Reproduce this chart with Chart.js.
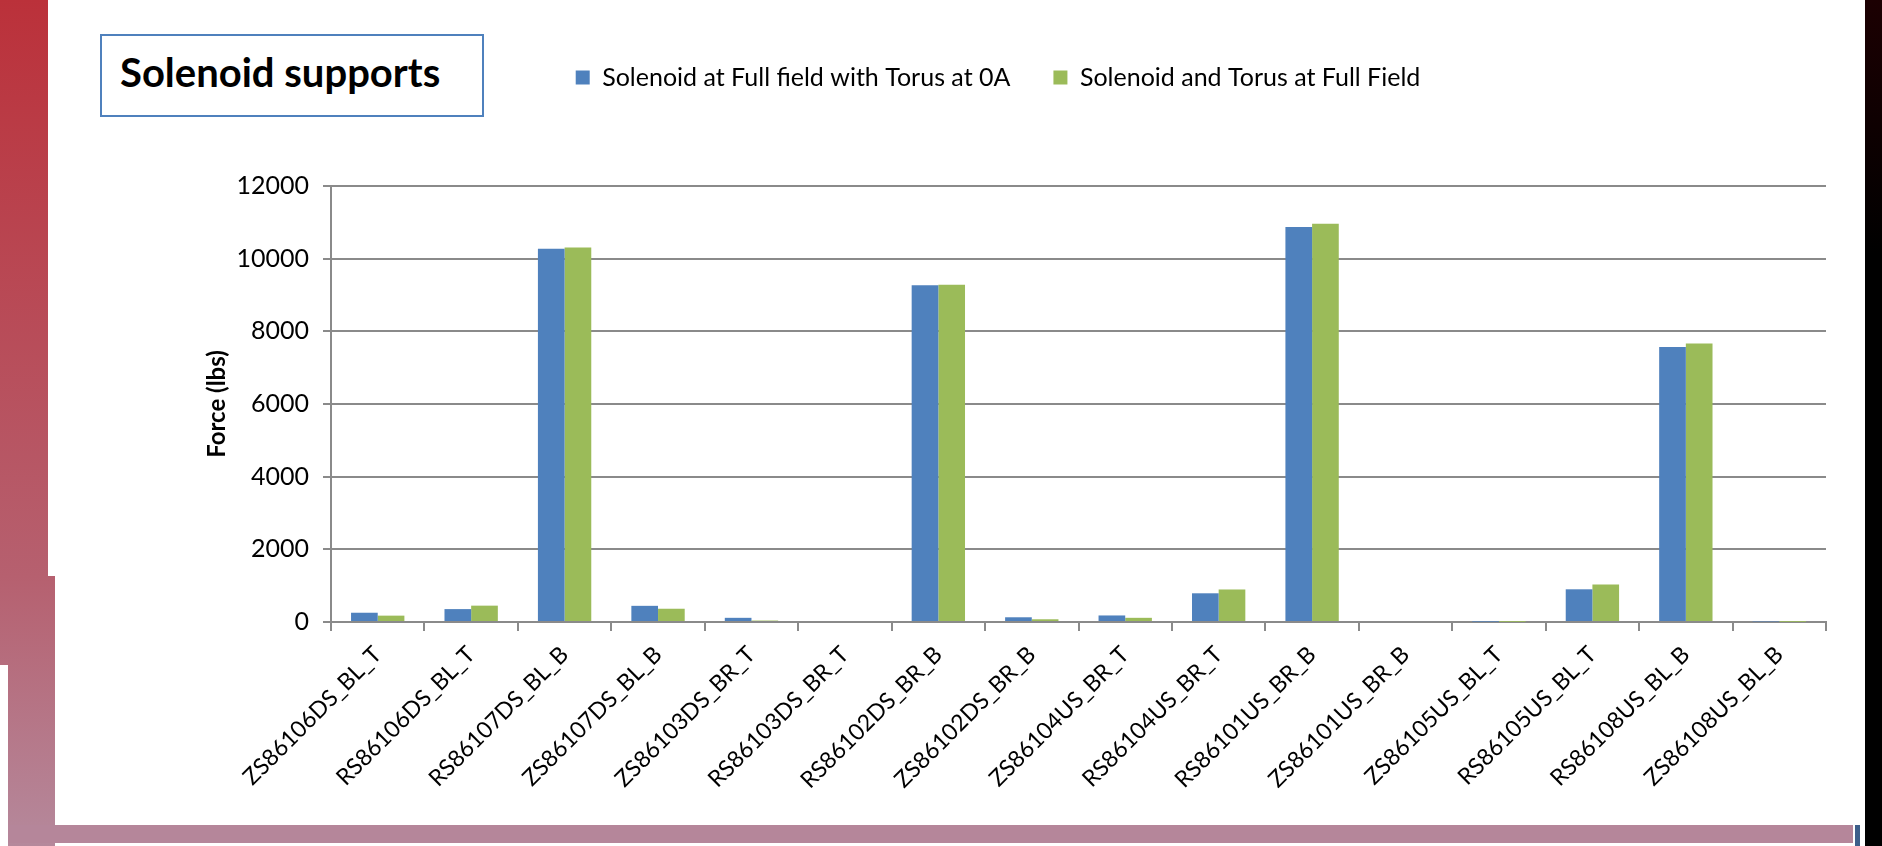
<!DOCTYPE html>
<html>
<head>
<meta charset="utf-8">
<script src="https://cdn.jsdelivr.net/npm/chart.js@4.4.0/dist/chart.umd.min.js"></script>
<style>
  body { margin: 0; background: #fff; width: 1882px; height: 846px; overflow: hidden; position: relative; font-family: Lato, sans-serif; }
  .leftbar-top { position: absolute; left: 0; top: 0; width: 48px; height: 576px; background: linear-gradient(#bb313a, #b6606f); }
  .leftbar-low { position: absolute; left: 0; top: 576px; width: 55px; height: 270px; background: linear-gradient(#b6606f, #b5899c); }
  .notch { position: absolute; left: 0; top: 665px; width: 8px; height: 181px; background: #fff; }
  .bottombar { position: absolute; left: 8px; top: 825px; width: 1845px; height: 18px; background: #b5869a; }
  .bluestrip { position: absolute; left: 1855px; top: 825px; width: 5px; height: 21px; background: #3d5f8a; }
  .rightblack { position: absolute; left: 1865px; top: 0; width: 17px; height: 846px; background: linear-gradient(#1c0002, #000 30%); }
  .titlebox { position: absolute; left: 100px; top: 34px; width: 380px; height: 79px; border: 2px solid #4f81bd; box-sizing: content-box; }
  .titlebox span { position: absolute; left: 18px; top: 50%; transform: translateY(-58%); font-weight: bold; font-size: 40px; color: #000; }
  #myChart { position: absolute; left: 0; top: 0; }
</style>
</head>
<body>
<div class="leftbar-top"></div>
<div class="leftbar-low"></div>
<div class="notch"></div>
<div class="bottombar"></div>
<div class="bluestrip"></div>
<div class="rightblack"></div>
<div class="titlebox"><span>Solenoid supports</span></div>
<canvas id="myChart" width="1865" height="825"></canvas>
<script>
const supports = ['ZS86106DS_BL_T','RS86106DS_BL_T','RS86107DS_BL_B','ZS86107DS_BL_B','ZS86103DS_BR_T','RS86103DS_BR_T',
  'RS86102DS_BR_B','ZS86102DS_BR_B','ZS86104US_BR_T','RS86104US_BR_T','RS86101US_BR_B','ZS86101US_BR_B',
  'ZS86105US_BL_T','RS86105US_BL_T','RS86108US_BL_B','ZS86108US_BL_B'];
const torusOff = [255, 355, 10275, 445, 115, 0, 9265, 130, 180, 790, 10870, 0, 10, 900, 7570, 15];
const torusFull = [175, 450, 10310, 365, 40, 0, 9280, 75, 115, 895, 10960, 0, 5, 1035, 7665, 5];
const yTicks = [0, 2000, 4000, 6000, 8000, 10000, 12000];

const gridGray = '#8a8a8a';
const font = 'Lato, sans-serif';

// push the plot area down below the legend
const legendGap = {
  id: 'legendGap',
  beforeInit(chart) {
    const fit = chart.legend.fit;
    chart.legend.fit = function () {
      fit.bind(chart.legend)();
      this.height += 86;
    };
  }
};

new Chart(document.getElementById('myChart'), {
  type: 'bar',
  data: {
    labels: supports,
    datasets: [
      { label: 'Solenoid at Full field with Torus at 0A', data: torusOff, backgroundColor: '#4f81bd' },
      { label: 'Solenoid and Torus at Full Field', data: torusFull, backgroundColor: '#9bbb59' }
    ]
  },
  options: {
    responsive: false,
    animation: false,
    categoryPercentage: 0.571,
    barPercentage: 1,
    layout: { padding: { left: 170, right: 39, top: 22, bottom: 0 } },
    plugins: {
      legend: {
        position: 'top',
        labels: {
          color: '#000',
          font: { family: font, size: 25 },
          boxWidth: 14,
          boxHeight: 14,
          padding: 43
        }
      },
      tooltip: { enabled: false }
    },
    scales: {
      x: {
        grid: { drawOnChartArea: false, drawTicks: true, tickLength: 9, color: gridGray, lineWidth: 2 },
        border: { color: gridGray, width: 2 },
        ticks: { color: '#000', font: { family: font, size: 23 }, maxRotation: 45, minRotation: 45, padding: 10, autoSkip: false },
        afterFit(scale) { scale.height = 203; }
      },
      y: {
        min: 0,
        max: 12000,
        afterBuildTicks(scale) { scale.ticks = yTicks.map(v => ({ value: v })); },
        grid: { color: gridGray, lineWidth: 2, tickLength: 8 },
        border: { color: gridGray, width: 2 },
        ticks: { color: '#000', font: { family: font, size: 25 }, padding: 14, callback: v => String(v) },
        title: { display: true, text: 'Force (lbs)', color: '#000', font: { family: font, size: 24, weight: 'bold' }, padding: { top: 33, bottom: 0 } },
        afterFit(scale) { scale.width = 161; }
      }
    }
  },
  plugins: [legendGap]
});
</script>
</body>
</html>
